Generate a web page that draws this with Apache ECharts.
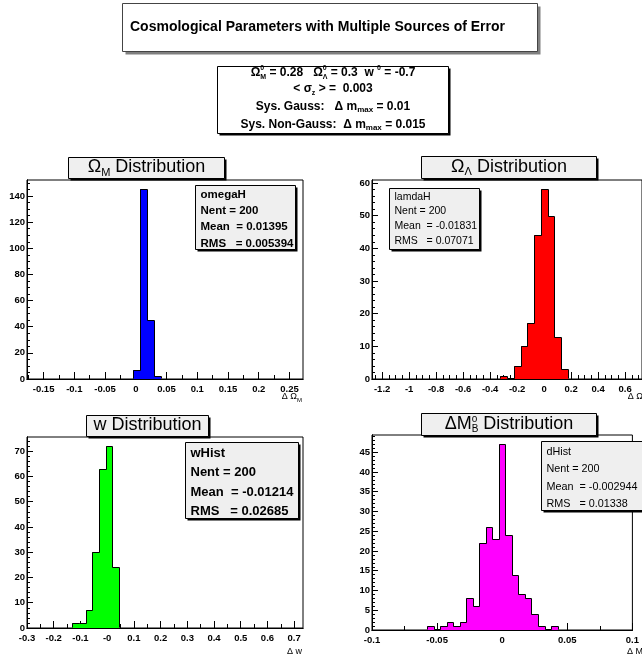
<!DOCTYPE html>
<html><head><meta charset="utf-8">
<script src="https://cdn.jsdelivr.net/npm/echarts@6/dist/echarts.min.js"></script>
<style>html,body{margin:0;padding:0;background:#fff}#c{width:642px;height:658px}</style>
</head><body><div id="c"></div>
<script>
// ================= DATA =================
// Omega_M histogram
const omegaMBinStart = -0.004, omegaMBinWidth = 0.01125;
const omegaMCounts = [7, 145, 45, 2];
const omegaMXTicks = [-0.15, -0.1, -0.05, 0, 0.05, 0.1, 0.15, 0.2, 0.25];
const omegaMXLabels = ['-0.15', '-0.1', '-0.05', '0', '0.05', '0.1', '0.15', '0.2', '0.25'];
const omegaMYTicks = [0, 20, 40, 60, 80, 100, 120, 140];
const omegaMStats = ['omegaH', 'Nent = 200', 'Mean  = 0.01395', 'RMS   = 0.005394'];

// Omega_Lambda histogram
const omegaLBinStart = -0.325, omegaLBinWidth = 0.05;
const omegaLCounts = [1, 0, 4, 10, 17, 44, 58, 50, 13, 3];
const omegaLXTicks = [-1.2, -1, -0.8, -0.6, -0.4, -0.2, 0, 0.2, 0.4, 0.6];
const omegaLXLabels = ['-1.2', '-1', '-0.8', '-0.6', '-0.4', '-0.2', '0', '0.2', '0.4', '0.6'];
const omegaLYTicks = [0, 10, 20, 30, 40, 50, 60];
const omegaLStats = ['lamdaH', 'Nent = 200', 'Mean  = -0.01831', 'RMS   = 0.07071'];

// w histogram
const wBinStart = -0.13, wBinWidth = 0.025;
const wCounts = [2, 2, 7, 30, 63, 72, 24];
const wXTicks = [-0.3, -0.2, -0.1, 0, 0.1, 0.2, 0.3, 0.4, 0.5, 0.6, 0.7];
const wXLabels = ['-0.3', '-0.2', '-0.1', '-0', '0.1', '0.2', '0.3', '0.4', '0.5', '0.6', '0.7'];
const wYTicks = [0, 10, 20, 30, 40, 50, 60, 70];
const wStats = ['wHist', 'Nent = 200', 'Mean  = -0.01214', 'RMS   = 0.02685'];

// Delta M_B^0 histogram
const dmBinStart = -0.0575, dmBinWidth = 0.005;
const dmCounts = [1, 0, 1, 2, 1, 2, 8, 6, 22, 26, 23, 47, 24, 14, 9, 8, 4, 1, 0, 1];
const dmXTicks = [-0.1, -0.05, 0, 0.05, 0.1];
const dmXLabels = ['-0.1', '-0.05', '0', '0.05', '0.1'];
const dmYTicks = [0, 5, 10, 15, 20, 25, 30, 35, 40, 45];
const dmStats = ['dHist', 'Nent = 200', 'Mean  = -0.002944', 'RMS   = 0.01338'];

const mainTitle = 'Cosmological Parameters with Multiple Sources of Error';
// =========================================

const FAM = '"Liberation Sans", Arial, Helvetica, sans-serif';
const mctx = document.createElement('canvas').getContext('2d');
function measure(t, s, w) { mctx.font = (w || 'normal') + ' ' + s + 'px ' + FAM; return mctx.measureText(t).width; }
function runs(parts, x, y, align) {
  const ws = parts.map(p => measure(p.t, p.s, p.w));
  let total = 0; parts.forEach((p, i) => { if (!p.z) total += ws[i]; });
  let cx = align === 'center' ? x - total / 2 : align === 'right' ? x - total : x;
  const els = [];
  parts.forEach((p, i) => {
    els.push({ type: 'text', x: cx, y: y + (p.dy || 0), z: 110, silent: true,
      style: { text: p.t, fontSize: p.s, fontWeight: p.w || 'normal', fontFamily: FAM, fill: '#000', align: 'left', verticalAlign: 'middle' } });
    if (!p.z) cx += ws[i];
  });
  return els;
}
function box(x, y, w, h, fill, shadow, sd, stroke) {
  return [
    { type: 'rect', z: 100, silent: true, shape: { x: x + sd, y: y + sd, width: w, height: h }, style: { fill: shadow } },
    { type: 'rect', z: 101, silent: true, shape: { x: x, y: y, width: w, height: h }, style: { fill: fill, stroke: stroke || '#000', lineWidth: 1 } }
  ];
}
function gridSteps(min, max, step) {
  const out = []; const k0 = Math.ceil(min / step - 1e-9), k1 = Math.floor(max / step + 1e-9);
  for (let k = k0; k <= k1; k++) out.push(+(k * step).toFixed(10));
  return out;
}
function labelFor(ticks, labels, v) {
  const i = ticks.findIndex(t => Math.abs(t - v) < 1e-9);
  return i >= 0 ? labels[i] : '';
}
function histItems(start, width, counts) {
  return counts.map((n, i) => [start + i * width, start + (i + 1) * width, n, i > 0 ? counts[i - 1] : 0, i === counts.length - 1 ? 1 : 0]);
}

const panels = [
  { start: omegaMBinStart, width: omegaMBinWidth, counts: omegaMCounts, color: '#0000ff',
    grid: { left: 27, top: 180, width: 276, height: 199 }, xMin: -0.177, xMax: 0.272,
    xTicks: omegaMXTicks, xLabels: omegaMXLabels, xMinor: 0.025, yTicks: omegaMYTicks, yMinor: 5 },
  { start: omegaLBinStart, width: omegaLBinWidth, counts: omegaLCounts, color: '#ff0000',
    grid: { left: 372, top: 180, width: 276, height: 199 }, xMin: -1.275, xMax: 0.725,
    xTicks: omegaLXTicks, xLabels: omegaLXLabels, xMinor: 0.05, yTicks: omegaLYTicks, yMinor: 2 },
  { start: wBinStart, width: wBinWidth, counts: wCounts, color: '#00ff00',
    grid: { left: 27, top: 437, width: 276, height: 191 }, xMin: -0.3, xMax: 0.733,
    xTicks: wXTicks, xLabels: wXLabels, xMinor: 0.05, yTicks: wYTicks, yMinor: 2 },
  { start: dmBinStart, width: dmBinWidth, counts: dmCounts, color: '#ff00ff',
    grid: { left: 372, top: 435, width: 276, height: 195 }, xMin: -0.1, xMax: 0.1,
    xTicks: dmXTicks, xLabels: dmXLabels, xMinor: 0.025, yTicks: dmYTicks, yMinor: 1 }
];

const labelFont = { fontFamily: FAM, fontSize: 9.5, fontWeight: 'bold', color: '#000' };
const grid = [], xAxis = [], yAxis = [], series = [];
panels.forEach((p, i) => {
  const yMax = 1.05 * Math.max(...p.counts);
  grid.push(Object.assign({ show: true, borderColor: '#000', borderWidth: 1, backgroundColor: 'transparent' }, p.grid));
  xAxis.push({ type: 'value', gridIndex: i, min: p.xMin, max: p.xMax, position: 'bottom',
    axisLine: { onZero: false, lineStyle: { color: '#000', width: 1 } },
    axisTick: { inside: true, length: 7, customValues: p.xTicks, lineStyle: { color: '#000' } },
    axisLabel: Object.assign({ customValues: p.xTicks, margin: 5, formatter: v => labelFor(p.xTicks, p.xLabels, v) }, labelFont),
    splitLine: { show: false } });
  xAxis.push({ type: 'value', gridIndex: i, min: p.xMin, max: p.xMax, position: 'bottom',
    axisLine: { onZero: false, lineStyle: { color: '#000', width: 1 } },
    axisTick: { inside: true, length: 4, customValues: gridSteps(p.xMin, p.xMax, p.xMinor), lineStyle: { color: '#000' } },
    axisLabel: { show: false }, splitLine: { show: false } });
  yAxis.push({ type: 'value', gridIndex: i, min: 0, max: yMax, position: 'left',
    axisLine: { onZero: false, lineStyle: { color: '#000', width: 1 } },
    axisTick: { inside: true, length: 6, customValues: p.yTicks, lineStyle: { color: '#000' } },
    axisLabel: Object.assign({ customValues: p.yTicks, margin: 2, formatter: v => String(v) }, labelFont),
    splitLine: { show: false } });
  yAxis.push({ type: 'value', gridIndex: i, min: 0, max: yMax, position: 'left',
    axisLine: { onZero: false, lineStyle: { color: '#000', width: 1 } },
    axisTick: { inside: true, length: 3, customValues: gridSteps(0, yMax, p.yMinor), lineStyle: { color: '#000' } },
    axisLabel: { show: false }, splitLine: { show: false } });
  const color = p.color;
  const items = histItems(p.start, p.width, p.counts);
  // filled bins
  series.push({ type: 'custom', xAxisIndex: 2 * i, yAxisIndex: 2 * i, silent: true, z: 5, data: items,
    renderItem: function (params, api) {
      const n = api.value(2);
      if (!(n > 0)) return { type: 'group', children: [] };
      const a = api.coord([api.value(0), 0]), b = api.coord([api.value(1), n]);
      const xl = Math.round(a[0]), xr = Math.round(b[0]), yb = Math.round(a[1]), yt = Math.round(b[1]);
      return { type: 'rect', shape: { x: xl, y: yt, width: xr - xl, height: yb - yt }, style: { fill: color, stroke: null } };
    } });
  // histogram contour
  series.push({ type: 'custom', xAxisIndex: 2 * i, yAxisIndex: 2 * i, silent: true, z: 6, data: items,
    renderItem: function (params, api) {
      const lo = api.value(0), hi = api.value(1), n = api.value(2), prev = api.value(3), last = api.value(4);
      const a = api.coord([lo, 0]), b = api.coord([hi, n]), c = api.coord([lo, prev]);
      const xl = Math.round(a[0]) + 0.5, xr = Math.round(b[0]) + 0.5, yb = Math.round(a[1]) - 0.5, yt = Math.round(b[1]) + 0.5, yp = Math.round(c[1]) + 0.5;
      const pts = [[xl, prev > 0 ? yp : yb], [xl, n > 0 ? yt : yb], [xr, n > 0 ? yt : yb]];
      if (last) pts.push([xr, yb]);
      return { type: 'polyline', shape: { points: pts }, style: { stroke: '#000', lineWidth: 1, fill: null } };
    } });
});

// ---------- graphic decorations ----------
let G = [];
// main title
G = G.concat(box(122.5, 3.5, 415, 48, '#fff', '#808080', 3, '#444'));
G = G.concat(runs([{ t: mainTitle, s: 14, w: 'bold' }], 130, 27.5, 'left'));
// parameter box
G = G.concat(box(217.5, 66.5, 231, 67, '#fff', '#000', 2));
const B = 'bold';
G = G.concat(runs([
  { t: 'Ω', s: 12, w: B }, { t: '0', s: 7, w: B, dy: -5, z: 1 }, { t: 'M', s: 7, w: B, dy: 4 }, { t: ' = 0.28   Ω', s: 12, w: B },
  { t: '0', s: 7, w: B, dy: -5, z: 1 }, { t: 'Λ', s: 7, w: B, dy: 4 }, { t: ' = 0.3  w ', s: 12, w: B },
  { t: '0', s: 7, w: B, dy: -5 }, { t: ' = -0.7', s: 12, w: B }], 333, 73, 'center'));
G = G.concat(runs([{ t: '< σ', s: 12, w: B }, { t: 'z', s: 7, w: B, dy: 4 }, { t: ' > =  0.003', s: 12, w: B }], 333, 89, 'center'));
G = G.concat(runs([{ t: 'Sys. Gauss:   Δ m', s: 12, w: B }, { t: 'max', s: 8, w: B, dy: 3 }, { t: ' = 0.01', s: 12, w: B }], 333, 107, 'center'));
G = G.concat(runs([{ t: 'Sys. Non-Gauss:  Δ m', s: 12, w: B }, { t: 'max', s: 8, w: B, dy: 3 }, { t: ' = 0.015', s: 12, w: B }], 333, 125, 'center'));

// pad titles
G = G.concat(box(68.5, 157.5, 156, 21, '#efefef', '#000', 2));
G = G.concat(runs([{ t: 'Ω', s: 18 }, { t: 'M', s: 11, dy: 5 }, { t: ' Distribution', s: 18 }], 146.5, 167.5, 'center'));
G = G.concat(box(421.5, 156.5, 175, 22, '#efefef', '#000', 2));
G = G.concat(runs([{ t: 'Ω', s: 18 }, { t: 'Λ', s: 11, dy: 5 }, { t: ' Distribution', s: 18 }], 509, 167, 'center'));
G = G.concat(box(86.5, 415.5, 122, 21, '#efefef', '#000', 2));
G = G.concat(runs([{ t: 'w Distribution', s: 18 }], 147.5, 425.5, 'center'));
G = G.concat(box(421.5, 413.5, 175, 22, '#efefef', '#000', 2));
G = G.concat(runs([{ t: 'ΔM', s: 18 }, { t: 'o', s: 10, dy: -5, z: 1 }, { t: 'B', s: 10, dy: 5 }, { t: ' Distribution', s: 18 }], 509, 424, 'center'));

// stats boxes
function stats(lines, x, y, w, h, ys, size, weight) {
  let els = box(x, y, w, h, '#efefef', '#000', 2);
  lines.forEach((t, i) => { els = els.concat(runs([{ t: t, s: size, w: weight }], x + 5, ys[i], 'left')); });
  return els;
}
G = G.concat(stats(omegaMStats, 195.5, 185.5, 100, 64, [195, 210.5, 227, 243.5], 11.5, 'bold'));
G = G.concat(stats(omegaLStats, 389.5, 188.5, 90, 61, [197, 211.5, 226.5, 241.5], 10.5, 'normal'));
G = G.concat(stats(wStats, 185.5, 442.5, 113, 76, [453.5, 472, 492, 511], 13, 'bold'));
G = G.concat(stats(dmStats, 541.5, 441.5, 102, 69, [452, 469.5, 487, 504], 10.8, 'normal'));

// axis titles
G = G.concat(runs([{ t: 'Δ Ω', s: 9 }, { t: 'M', s: 6, dy: 3 }], 302, 397, 'right'));
G = G.concat(runs([{ t: 'Δ Ω', s: 9 }, { t: 'Λ', s: 6, dy: 3 }], 647, 397, 'right'));
G = G.concat(runs([{ t: 'Δ w', s: 9 }], 302, 652, 'right'));
G = G.concat(runs([{ t: 'Δ M', s: 9 }, { t: '0', s: 6, dy: -3, z: 1 }, { t: 'B', s: 6, dy: 3 }], 647, 652, 'right'));

const chart = echarts.init(document.getElementById('c'), null, { renderer: 'canvas' });
chart.setOption({
  backgroundColor: '#fff', animation: false,
  grid: grid, xAxis: xAxis, yAxis: yAxis, series: series,
  graphic: { elements: G }
});
</script></body></html>
